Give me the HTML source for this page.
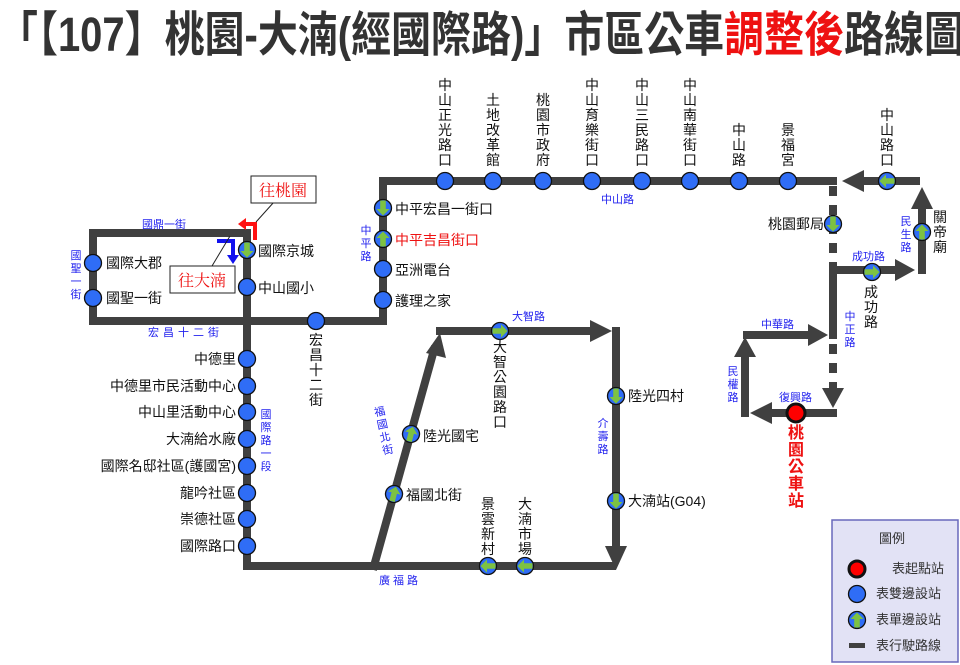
<!DOCTYPE html>
<html><head><meta charset="utf-8">
<style>
body{margin:0;width:960px;height:665px;overflow:hidden;background:#fff;position:relative;font-family:"Liberation Sans","Noto Sans CJK TC",sans-serif;}
.t{position:absolute;font-size:14px;color:#111;white-space:nowrap;line-height:14px;}
.v{position:absolute;font-size:14px;color:#111;width:14px;line-height:15px;text-align:center;word-break:break-all;white-space:normal;}
.b{color:#2222ee;font-size:11px;}
.vb{position:absolute;font-size:11px;color:#2222ee;width:12px;line-height:13px;text-align:center;word-break:break-all;}
.r{text-align:right;}
</style></head><body>
<svg width="960" height="665" style="position:absolute;left:0;top:0">
<defs>
<g id="bs"><circle r="8.5" fill="#2f6df6" stroke="#111" stroke-width="1.3"/></g>
<g id="gs"><circle r="8.5" fill="#2f6df6" stroke="#111" stroke-width="1.3"/><polygon points="0,-7.5 6.5,-1 2.8,-1 2.8,7.5 -2.8,7.5 -2.8,-1 -6.5,-1" fill="#7dc242"/></g>
</defs>
<text x="-2" y="51" font-family="Liberation Sans,Noto Sans CJK TC,sans-serif" font-weight="bold" font-size="48" fill="#333" textLength="966" lengthAdjust="spacingAndGlyphs">「【107】桃園-大湳(經國際路)」市區公車<tspan fill="#ee1111">調整後</tspan>路線圖</text>
<g stroke="#404040" stroke-width="8" fill="none" stroke-linejoin="miter" stroke-linecap="square">
<polyline points="247,233 93,233 93,321 383,321 383,181 833,181"/>
<line x1="247" y1="233" x2="247" y2="566"/>
<line x1="247" y1="566" x2="612" y2="566"/>
<line x1="374" y1="566" x2="434" y2="350"/>
<line x1="440" y1="331" x2="592" y2="331"/>
<line x1="616" y1="331" x2="616" y2="548"/>
<polyline points="833,335 833,270 900,270"/>
<polyline points="922,270 922,208"/>
<line x1="916" y1="181" x2="864" y2="181"/>
<line x1="747" y1="335" x2="812" y2="335"/>
<line x1="745" y1="413" x2="745" y2="356"/>
<line x1="833" y1="413" x2="770" y2="413"/>
</g>
<g stroke="#404040" stroke-width="8" stroke-dasharray="10,9">
<line x1="833" y1="186" x2="833" y2="266"/>
<line x1="833" y1="344" x2="833" y2="392"/>
</g>
<g fill="#404040">
<polygon points="440,333 426,353 446,358"/>
<polygon points="612,331 590,320 590,342"/>
<polygon points="616,570 605,546 627,546"/>
<polygon points="833,408 822,388 844,388"/>
<polygon points="915,270 895,259 895,281"/>
<polygon points="922,187 911,209 933,209"/>
<polygon points="842,181 864,170 864,192"/>
<polygon points="828,335 808,324 808,346"/>
<polygon points="745,337 734,357 756,357"/>
<polygon points="750,413 772,402 772,424"/>
</g>
<polyline points="255,240 255,224 244,224" fill="none" stroke="#ff1111" stroke-width="4"/>
<polygon points="238,224 246,218 246,230" fill="#ff1111"/>
<polyline points="217,241 233,241 233,257" fill="none" stroke="#1111ee" stroke-width="4"/>
<polygon points="233,264 227,255 239,255" fill="#1111ee"/>
<line x1="274" y1="202" x2="256" y2="222" stroke="#222" stroke-width="1"/>
<line x1="230" y1="236" x2="212" y2="266" stroke="#222" stroke-width="1"/>
<rect x="251" y="176" width="65" height="27" fill="#fff" stroke="#222" stroke-width="1"/>
<rect x="170" y="266" width="65" height="27" fill="#fff" stroke="#222" stroke-width="1"/>
<text x="283" y="196" font-family="Liberation Serif,Noto Serif CJK SC,serif" font-size="16" fill="#ee1111" text-anchor="middle">往桃園</text>
<text x="202" y="286" font-family="Liberation Serif,Noto Serif CJK SC,serif" font-size="16" fill="#ee1111" text-anchor="middle">往大湳</text>
<use href="#bs" x="445" y="181"/><use href="#bs" x="493" y="181"/><use href="#bs" x="543" y="181"/><use href="#bs" x="592" y="181"/>
<use href="#bs" x="642" y="181"/><use href="#bs" x="690" y="181"/><use href="#bs" x="739" y="181"/><use href="#bs" x="788" y="181"/>
<use href="#gs" transform="translate(887,181) rotate(-90)"/>
<use href="#gs" transform="translate(383,208) rotate(180)"/>
<use href="#gs" transform="translate(383,239)"/>
<use href="#bs" x="383" y="269"/><use href="#bs" x="383" y="300"/>
<use href="#bs" x="316" y="321"/>
<use href="#bs" x="93" y="263"/><use href="#bs" x="93" y="298"/>
<use href="#gs" transform="translate(247,250) rotate(180)"/>
<use href="#bs" x="247" y="287"/>
<use href="#bs" x="247" y="359"/><use href="#bs" x="247" y="386"/><use href="#bs" x="247" y="412"/><use href="#bs" x="247" y="439"/>
<use href="#bs" x="247" y="466"/><use href="#bs" x="247" y="493"/><use href="#bs" x="247" y="519"/><use href="#bs" x="247" y="546"/>
<use href="#gs" transform="translate(500,331) rotate(90)"/>
<use href="#gs" transform="translate(616,396) rotate(180)"/>
<use href="#gs" transform="translate(616,501) rotate(180)"/>
<use href="#gs" transform="translate(488,566) rotate(-90)"/>
<use href="#gs" transform="translate(525,566) rotate(-90)"/>
<use href="#gs" transform="translate(411,434) rotate(15)"/>
<use href="#gs" transform="translate(394,494) rotate(15)"/>
<use href="#gs" transform="translate(833,224) rotate(180)"/>
<use href="#gs" transform="translate(872,272) rotate(90)"/>
<use href="#gs" transform="translate(922,232)"/>
<circle cx="796" cy="413" r="9" fill="#ff0000" stroke="#111" stroke-width="3"/>
<rect x="832" y="520" width="126" height="142" fill="#e2e2f5" stroke="#6868bb" stroke-width="1.5"/>
<circle cx="857" cy="569" r="8" fill="#ff0000" stroke="#111" stroke-width="3"/>
<use href="#bs" x="857" y="594"/>
<use href="#gs" transform="translate(857,620)"/>
<rect x="849" y="643" width="16" height="5" fill="#404040"/>
</svg>
<div class="t" style="left:879px;top:532px;font-size:13px;color:#333">圖例</div>
<div class="t" style="left:892px;top:562px;font-size:13px;color:#333">表起點站</div>
<div class="t" style="left:876px;top:587px;font-size:13px;color:#333">表雙邊設站</div>
<div class="t" style="left:876px;top:613px;font-size:13px;color:#333">表單邊設站</div>
<div class="t" style="left:876px;top:639px;font-size:13px;color:#333">表行駛路線</div>
<div class="v" style="left:438px;top:78px">中山正光路口</div>
<div class="v" style="left:486px;top:93px">土地改革館</div>
<div class="v" style="left:536px;top:93px">桃園市政府</div>
<div class="v" style="left:585px;top:78px">中山育樂街口</div>
<div class="v" style="left:635px;top:78px">中山三民路口</div>
<div class="v" style="left:683px;top:78px">中山南華街口</div>
<div class="v" style="left:732px;top:123px">中山路</div>
<div class="v" style="left:781px;top:123px">景福宮</div>
<div class="v" style="left:880px;top:108px">中山路口</div>
<div class="t b" style="left:601px;top:193px">中山路</div>
<div class="t" style="left:395px;top:202px">中平宏昌一街口</div>
<div class="t" style="left:395px;top:233px;color:#ee1111">中平吉昌街口</div>
<div class="t" style="left:395px;top:263px">亞洲電台</div>
<div class="t" style="left:395px;top:294px">護理之家</div>
<div class="vb" style="left:360px;top:225px">中平路</div>
<div class="t b" style="left:142px;top:218px">國鼎一街</div>
<div class="vb" style="left:70px;top:250px">國聖一街</div>
<div class="t" style="left:106px;top:256px">國際大郡</div>
<div class="t" style="left:106px;top:291px">國聖一街</div>
<div class="t" style="left:258px;top:244px">國際京城</div>
<div class="t" style="left:258px;top:281px">中山國小</div>
<div class="t b" style="left:148px;top:326px;letter-spacing:4px">宏昌十二街</div>
<div class="v" style="left:309px;top:333px">宏昌十二街</div>
<div class="t r" style="right:724px;top:352px">中德里</div>
<div class="t r" style="right:724px;top:379px">中德里市民活動中心</div>
<div class="t r" style="right:724px;top:405px">中山里活動中心</div>
<div class="t r" style="right:724px;top:432px">大湳給水廠</div>
<div class="t r" style="right:724px;top:459px">國際名邸社區(護國宮)</div>
<div class="t r" style="right:724px;top:486px">龍吟社區</div>
<div class="t r" style="right:724px;top:512px">崇德社區</div>
<div class="t r" style="right:724px;top:539px">國際路口</div>
<div class="vb" style="left:260px;top:409px">國際路一段</div>
<div class="t b" style="left:379px;top:574px;letter-spacing:3px">廣福路</div>
<div class="t b" style="left:512px;top:310px">大智路</div>
<div class="v" style="left:493px;top:340px">大智公園路口</div>
<div class="vb" style="left:378px;top:406px;transform:rotate(-12deg)">福國北街</div>
<div class="t" style="left:423px;top:429px">陸光國宅</div>
<div class="t" style="left:406px;top:488px">福國北街</div>
<div class="v" style="left:481px;top:497px">景雲新村</div>
<div class="v" style="left:518px;top:497px">大湳市場</div>
<div class="vb" style="left:597px;top:418px">介壽路</div>
<div class="t" style="left:628px;top:389px">陸光四村</div>
<div class="t" style="left:628px;top:494px">大湳站(G04)</div>
<div class="t r" style="right:136px;top:217px">桃園郵局</div>
<div class="v" style="left:933px;top:210px">關帝廟</div>
<div class="vb" style="left:900px;top:216px">民生路</div>
<div class="t b" style="left:852px;top:250px">成功路</div>
<div class="v" style="left:864px;top:285px">成功路</div>
<div class="vb" style="left:844px;top:311px">中正路</div>
<div class="t b" style="left:761px;top:318px">中華路</div>
<div class="vb" style="left:727px;top:366px">民權路</div>
<div class="t b" style="left:779px;top:391px">復興路</div>
<div class="v" style="left:788px;top:425px;font-size:16px;width:16px;line-height:17px;color:#ee1111;font-weight:bold">桃園公車站</div>
</body></html>
